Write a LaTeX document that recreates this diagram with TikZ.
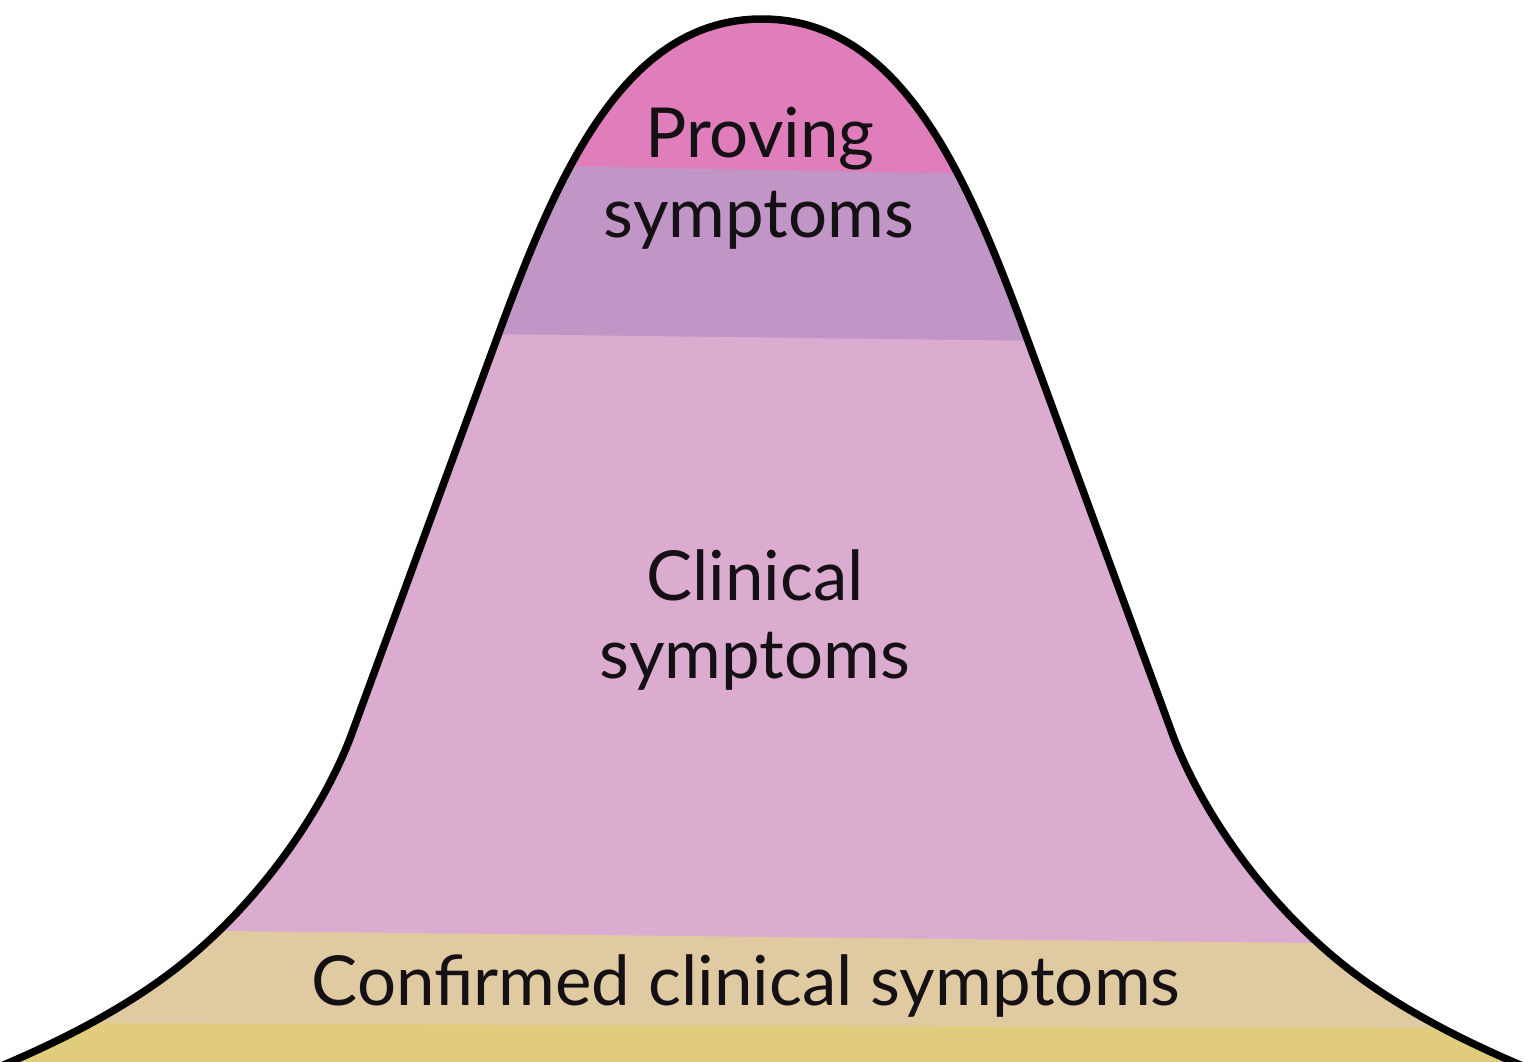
\documentclass[tikz,border=0pt]{standalone}
\usepackage{fontspec}
\setmainfont{Lato}
\definecolor{bandtop}{RGB}{224,126,188}
\definecolor{bandpurple}{RGB}{193,150,198}
\definecolor{bandpink}{RGB}{220,172,208}
\definecolor{bandtan}{RGB}{223,202,161}
\definecolor{bandyellow}{RGB}{225,204,125}
\definecolor{txt}{RGB}{20,16,20}
\begin{document}
\begin{tikzpicture}[x=1pt,y=-1pt,
  lbl/.style={font=\fontsize{69}{80}\selectfont, text=txt, inner sep=0pt, anchor=base},
  bellline/.style={line width=7.5pt, line join=round}]
\useasboundingbox (0,0) rectangle (1525,1061);
\fill[white] (0,0) rectangle (1525,1061);
\def\bellpath{(-28,1078) .. controls (32,1054) and (102,1022.2) .. (162,979)
  .. controls (252,914) and (322,814.6) .. (352,733)
  -- (500,330)
  .. controls (560,167) and (627,19) .. (762,19)
  .. controls (897,19) and (964,167) .. (1024,330)
  -- (1172,733)
  .. controls (1202,814.6) and (1272,914) .. (1362,979)
  .. controls (1422,1022.2) and (1492,1054) .. (1552,1078)}
\begin{scope}
  \clip \bellpath -- cycle;
  \fill[bandtop] (-50,-50) rectangle (1600,200);
  \fill[bandpurple] (-50,154.4) -- (0,155.4) -- (1525,184.4) -- (1600,185.8) -- (1600,400) -- (-50,400) -- cycle;
  \fill[bandpink] (-50,327.4) -- (0,328) -- (1525,347) -- (1600,348) -- (1600,1000) -- (-50,1000) -- cycle;
  \fill[bandtan] (-50,928) -- (0,928.5) -- (1525,945.3) -- (1600,946) -- (1600,1100) -- (-50,1100) -- cycle;
  \fill[bandyellow] (-50,1022.6) -- (0,1022.8) -- (1525,1028) -- (1600,1028.3) -- (1600,1100) -- (-50,1100) -- cycle;
\end{scope}
\draw[bellline] \bellpath;
\node[lbl] (proving) at (760,157) {Proving};
\node[lbl] (provsym) at (759,237) {symptoms};
\node[lbl] (clinical) at (755,600) {Clinical};
\node[lbl] (clinsym) at (755,678) {symptoms};
\node[lbl] (confirmed) at (746,1005) {Confirmed clinical symptoms};
\end{tikzpicture}
\end{document}
